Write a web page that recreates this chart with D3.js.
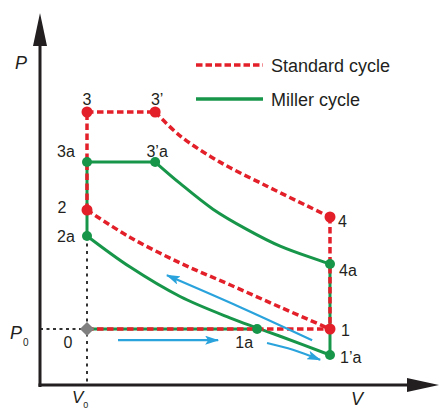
<!DOCTYPE html>
<html>
<head>
<meta charset="utf-8">
<script src="https://cdn.jsdelivr.net/npm/d3@7"></script>
<style>
  body { margin: 0; background: #fff; }
  text { font-family: "Liberation Sans", Arial, sans-serif; fill: #231f20; }
</style>
</head>
<body>
<svg id="chart" width="439" height="411"></svg>
<script>
// ---- data (V in units of V0, P in units of P0) ----
const stdPoints = [
  { id: "0", v: 1, p: 1 },
  { id: "1", v: 6.17, p: 1 },
  { id: "2", v: 1, p: 3.125 },
  { id: "3", v: 1, p: 4.875 },
  { id: "3'", v: 2.45, p: 4.875 },
  { id: "4", v: 6.17, p: 3.0 }
];
const millerPoints = [
  { id: "1a", v: 4.62, p: 1 },
  { id: "1'a", v: 6.17, p: 0.536 },
  { id: "2a", v: 1, p: 2.661 },
  { id: "3a", v: 1, p: 3.982 },
  { id: "3'a", v: 2.45, p: 3.982 },
  { id: "4a", v: 6.17, p: 2.161 }
];
// curved strokes
const stdCompression = [[1, 3.125], [1.91, 2.64], [2.98, 2.18], [4.04, 1.79], [5.11, 1.39], [6.17, 1]];
const stdExpansion = [[2.45, 4.875], [2.98, 4.45], [3.83, 3.98], [4.83, 3.55], [5.68, 3.2], [6.17, 3.0]];
const millerCompression = [[1, 2.661], [1.91, 2.11], [2.98, 1.58], [4.04, 1.2], [4.62, 1.02], [5.11, 0.87], [6.17, 0.536]];
const millerExpansion = [[2.45, 3.982], [2.98, 3.6], [3.68, 3.14], [4.4, 2.78], [5.11, 2.48], [6.17, 2.161]];
// straight strokes
const stdLines = [
  [[1, 1], [6.17, 1]],
  [[6.17, 3.0], [6.17, 1]],
  [[1, 3.125], [1, 4.875]],
  [[1, 4.875], [2.45, 4.875]]
];
const millerLines = [
  [[1, 1], [4.62, 1]],
  [[6.17, 2.161], [6.17, 0.536]],
  [[1, 2.661], [1, 3.982]],
  [[1, 3.982], [2.45, 3.982]]
];
// blue process arrows
const arrows = [
  [[1.66, 0.8], [3.79, 0.8]],
  [[5.79, 0.8], [4.26, 1.39], [2.7, 1.96]],
  [[4.83, 0.75], [5.38, 0.63], [5.96, 0.45]]
];
const labels = [
  { t: "3", v: 1, p: 4.875, dx: 0, dy: -7, a: "middle" },
  { t: "3\u2019", v: 2.45, p: 4.875, dx: 2, dy: -7, a: "middle" },
  { t: "3a", v: 1, p: 3.982, dx: -21, dy: -5, a: "middle" },
  { t: "3\u2019a", v: 2.45, p: 3.982, dx: 2, dy: -5, a: "middle" },
  { t: "2", v: 1, p: 3.125, dx: -25, dy: 3, a: "middle" },
  { t: "2a", v: 1, p: 2.661, dx: -21, dy: 6, a: "middle" },
  { t: "0", v: 1, p: 1, dx: -19, dy: 19, a: "middle" },
  { t: "4", v: 6.17, p: 3.0, dx: 8, dy: 10, a: "start" },
  { t: "4a", v: 6.17, p: 2.161, dx: 9, dy: 12, a: "start" },
  { t: "1", v: 6.17, p: 1, dx: 11, dy: 7, a: "start" },
  { t: "1a", v: 4.62, p: 1, dx: -13, dy: 19, a: "middle" },
  { t: "1\u2019a", v: 6.17, p: 0.536, dx: 10, dy: 8, a: "start" }
];
const legendItems = ["Standard cycle", "Miller cycle"];

const RED = "#e3202a", GREEN = "#17964a", BLUE = "#2aa3dc";

const svg = d3.select("#chart");
const x = d3.scaleLinear().domain([0, 1]).range([40, 87]);
const y = d3.scaleLinear().domain([0, 1]).range([385, 329]);

const curve = d3.line().x(d => x(d[0])).y(d => y(d[1])).curve(d3.curveCatmullRom.alpha(0.5));
const straight = d3.line().x(d => x(d[0])).y(d => y(d[1]));

// arrow markers
const defs = svg.append("defs");
defs.append("marker").attr("id", "blueHead")
  .attr("viewBox", "0 0 14 9").attr("refX", 13).attr("refY", 4.5)
  .attr("markerWidth", 14).attr("markerHeight", 9)
  .attr("markerUnits", "userSpaceOnUse").attr("orient", "auto")
  .append("path").attr("d", "M0,0 L14,4.5 L0,9 L3,4.5 Z").attr("fill", BLUE);

// dotted guides to V0 and P0
svg.append("path").attr("d", straight([[0, 1], [1, 1]]))
  .attr("stroke", "#333").attr("stroke-width", 2).attr("stroke-dasharray", "3,3.5").attr("fill", "none");
svg.append("path").attr("d", straight([[1, 2.661], [1, 0]]))
  .attr("stroke", "#333").attr("stroke-width", 2).attr("stroke-dasharray", "3,4.5").attr("fill", "none");

// axes with arrows
const axes = svg.append("g");
axes.append("line").attr("x1", 40).attr("y1", 387).attr("x2", 40).attr("y2", 40)
  .attr("stroke", "#231f20").attr("stroke-width", 3);
axes.append("line").attr("x1", 38.5).attr("y1", 385).attr("x2", 412).attr("y2", 385)
  .attr("stroke", "#231f20").attr("stroke-width", 3);
axes.append("path").attr("d", "M40,13 L47,46 L33,46 Z").attr("fill", "#231f20");
axes.append("path").attr("d", "M439,385 L407,378 L407,392 Z").attr("fill", "#231f20");

// Miller cycle (green, solid) underneath
const g = svg.append("g").attr("fill", "none").attr("stroke", GREEN).attr("stroke-width", 3);
g.append("path").attr("d", curve(millerCompression));
g.append("path").attr("d", curve(millerExpansion));
millerLines.forEach(l => g.append("path").attr("d", straight(l)));

// Standard cycle (red, dashed) on top
const r = svg.append("g").attr("fill", "none").attr("stroke", RED)
  .attr("stroke-width", 3.5).attr("stroke-dasharray", "6.5,3.5");
r.append("path").attr("d", curve(stdCompression));
r.append("path").attr("d", curve(stdExpansion));
stdLines.forEach(l => r.append("path").attr("d", straight(l)));

// blue arrows
svg.selectAll("path.arrow").data(arrows).join("path")
  .attr("class", "arrow")
  .attr("d", curve)
  .attr("fill", "none").attr("stroke", BLUE).attr("stroke-width", 2.2)
  .attr("marker-end", "url(#blueHead)");

// state points
svg.selectAll("circle.std").data(stdPoints.filter(d => d.id !== "0")).join("circle")
  .attr("class", "std")
  .attr("cx", d => x(d.v)).attr("cy", d => y(d.p)).attr("r", 5.5).attr("fill", RED);
svg.selectAll("circle.miller").data(millerPoints).join("circle")
  .attr("class", "miller")
  .attr("cx", d => x(d.v)).attr("cy", d => y(d.p)).attr("r", 5).attr("fill", GREEN);
const p0 = stdPoints.find(d => d.id === "0");
svg.append("rect")
  .attr("x", -5).attr("y", -5).attr("width", 10).attr("height", 10)
  .attr("fill", "#808080")
  .attr("transform", "translate(" + x(p0.v) + "," + y(p0.p) + ") rotate(45)");

// point labels
svg.selectAll("text.pt").data(labels).join("text")
  .attr("class", "pt")
  .attr("x", d => x(d.v) + d.dx).attr("y", d => y(d.p) + d.dy)
  .attr("text-anchor", d => d.a)
  .attr("font-size", 16)
  .text(d => d.t);

// axis labels
svg.append("text").attr("x", 15).attr("y", 69).attr("font-size", 18)
  .attr("font-style", "italic").text("P");
const p0lab = svg.append("text").attr("x", 10).attr("y", 339).attr("font-size", 18).attr("font-style", "italic");
p0lab.append("tspan").text("P");
p0lab.append("tspan").attr("font-size", 10).attr("font-style", "normal").attr("dx", 1).attr("dy", 7).text("0");
const v0lab = svg.append("text").attr("x", 72).attr("y", 403).attr("font-size", 17).attr("font-style", "italic");
v0lab.append("tspan").text("V");
v0lab.append("tspan").attr("font-size", 9).attr("font-style", "normal").attr("dx", 0).attr("dy", 5).text("0");
svg.append("text").attr("x", 351).attr("y", 405).attr("font-size", 18)
  .attr("font-style", "italic").text("V");

// legend
const legend = svg.append("g");
legendItems.forEach((name, i) => {
  const ly = 65 + i * 34;
  legend.append("line").attr("x1", 196).attr("x2", 263).attr("y1", ly).attr("y2", ly)
    .attr("stroke", i === 0 ? RED : GREEN).attr("stroke-width", 3.5)
    .attr("stroke-dasharray", i === 0 ? "6.5,3" : null);
  legend.append("text").attr("x", 271).attr("y", ly + 7).attr("font-size", 18).text(name);
});
</script>
</body>
</html>
